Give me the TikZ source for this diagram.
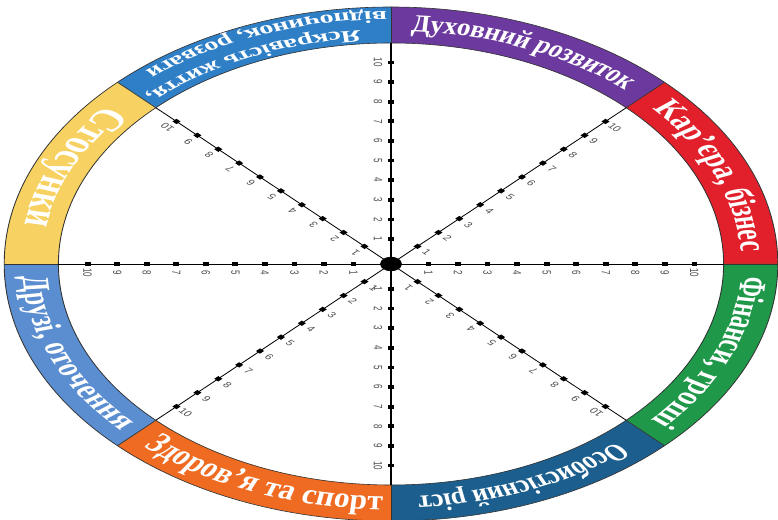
\documentclass[tikz,border=0pt]{standalone}
\usepackage{fontspec}
\setmainfont{Liberation Serif}
\newfontfamily\numfont{Liberation Sans}
\newfontfamily\fTop[FakeStretch=0.74]{Liberation Serif}
\newfontfamily\fSide[FakeStretch=0.92]{Liberation Serif}
\newfontfamily\fTwo[FakeStretch=1.1]{Liberation Serif}
\usetikzlibrary{decorations.text}
\definecolor{cBlue}{HTML}{2F7FC7}
\definecolor{cPurple}{HTML}{6C3A9F}
\definecolor{cRed}{HTML}{E2202B}
\definecolor{cGreen}{HTML}{1F9849}
\definecolor{cNavy}{HTML}{1C5F8E}
\definecolor{cOrange}{HTML}{EF6B21}
\definecolor{cLblue}{HTML}{5B8ED0}
\definecolor{cYellow}{HTML}{F7D262}
\newcommand\lbl[2]{#1\color{white}\bfseries\fontsize{#2}{#2}\selectfont}
\tikzset{
  edge/.style={draw=black!80, line width=0.6pt},
  spoke/.style={draw=black, line width=0.7pt},
  dot/.style={rectangle, fill=black, minimum size=3.8pt, inner sep=0pt, outer sep=0pt},
  num/.style={font=\numfont\fontsize{8}{8}\selectfont, text=black!70, inner sep=0pt},
  hub/.style={circle, fill=black, minimum size=14.4pt, inner sep=0pt},
}
\begin{document}
\begin{tikzpicture}[x=1pt,y=1pt]
\useasboundingbox (0,0) rectangle (778,519);
\fill[white] (0,0) rectangle (778,519);
\begin{scope}[transform canvas={xscale=1.505}]
\coordinate (C) at (259.8,255);
% ring segments
\foreach \a/\b/\c in {90/135/cBlue, 45/90/cPurple, 0/45/cRed, -45/0/cGreen, -90/-45/cNavy, -135/-90/cOrange, 180/225/cLblue, 135/180/cYellow} {
  \fill[\c] ([shift={(\a:257)}]C) arc[start angle=\a, end angle=\b, radius=257]
     -- ([shift={(\b:221)}]C) arc[start angle=\b, end angle=\a, radius=221] -- cycle;
}
\draw[edge] (C) circle[radius=257];
\draw[edge] (C) circle[radius=221];
\foreach \a in {0,45,...,315} {
  \draw[edge] ([shift={(\a:221)}]C) -- ([shift={(\a:257)}]C);
}
% spokes, dots, numbers
\foreach \t/\o/\r in {0/270/-90, 45/315/-45, 90/180/-90, 135/225/135, 180/270/-90, 225/315/-45, 270/180/-90, 315/225/135} {
  \coordinate (end\t) at ([shift={(\t:221)}]C);
  \draw[spoke] (C) -- (end\t);
  \foreach \k in {1,...,10} {
    \node[dot, rotate=\t] (d\t x\k) at ([shift={(\t:{221*(0.024+0.0888*\k)})}]C) {};
    \node[num, rotate=\r] (n\t x\k) at ([shift={(\o:8.6)}]d\t x\k.center) {\k};
  }
}
\node[hub] (hub) at (C) {};
% labels
\path[decorate, decoration={text along path, text align=center, raise=-5.9pt,
  text={|\lbl{\fTop}{24.5}|Духовний розвиток}}]
  ([shift={(97.5:239)}]C) arc[start angle=97.5, end angle=37.5, radius=239];
\path[decorate, decoration={text along path, text align=center, raise=-6.2pt,
  text={|\lbl{\fSide}{26}|Кар’єра, бізнес}}]
  ([shift={(52.4:239)}]C) arc[start angle=52.4, end angle=-7.6, radius=239];
\path[decorate, decoration={text along path, text align=center, raise=-6.1pt,
  text={|\lbl{\fSide}{25.5}|Фінанси, гроші}}]
  ([shift={(7.4:239)}]C) arc[start angle=7.4, end angle=-52.6, radius=239];
\path[decorate, decoration={text along path, text align=center, raise=-5.9pt,
  text={|\lbl{\fTop}{24.5}|Особистісний ріст}}]
  ([shift={(-37.8:239)}]C) arc[start angle=-37.8, end angle=-97.8, radius=239];
\path[decorate, decoration={text along path, text align=center, raise=-6.8pt,
  text={|\lbl{\fTop}{28.5}|Здоров’я та спорт}}]
  ([shift={(-141.7:239)}]C) arc[start angle=-141.7, end angle=-81.7, radius=239];
\path[decorate, decoration={text along path, text align=center, raise=-6.1pt,
  text={|\lbl{\fSide}{25.5}|Друзі, оточення}}]
  ([shift={(173:239)}]C) arc[start angle=173, end angle=233, radius=239];
\path[decorate, decoration={text along path, text align=center, raise=-7.7pt,
  text={|\lbl{\fSide}{32}|Стосунки}}]
  ([shift={(125.5:239)}]C) arc[start angle=125.5, end angle=185.5, radius=239];
\path[decorate, decoration={text along path, text align=center, raise=-4.1pt,
  text={|\lbl{\fTwo}{17}|Яскравість життя,}}]
  ([shift={(84.5:230.5)}]C) arc[start angle=84.5, end angle=144.5, radius=230.5];
\path[decorate, decoration={text along path, text align=center, raise=-4.1pt,
  text={|\lbl{\fTwo}{17}|відпочинок, розваги}}]
  ([shift={(80.5:248.5)}]C) arc[start angle=80.5, end angle=140.5, radius=248.5];
\end{scope}
\end{tikzpicture}
\end{document}
